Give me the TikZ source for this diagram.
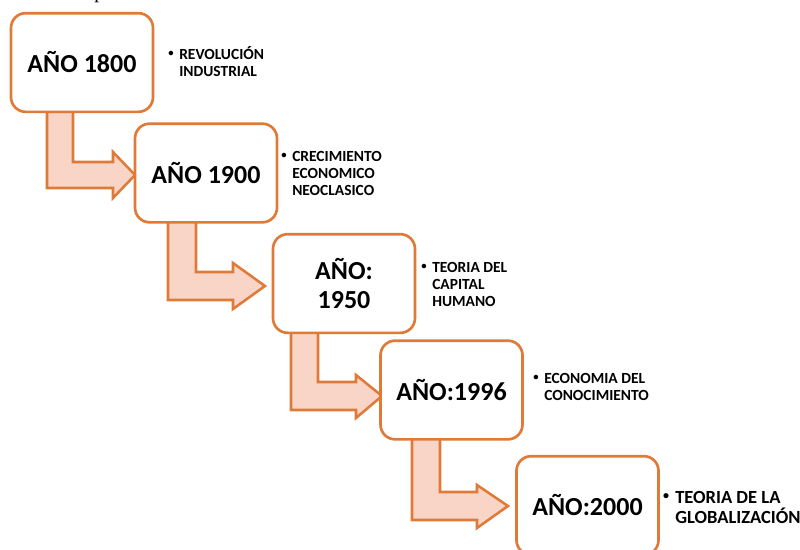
\documentclass[tikz,border=0pt]{standalone}
\usepackage{fontspec}
\setmainfont{Carlito}
\newfontfamily\serifpart{Liberation Serif}
\definecolor{boxorange}{RGB}{224,122,56}
\definecolor{arrowfill}{RGB}{248,213,198}
\begin{document}
\begin{tikzpicture}[x=0.75pt,y=-0.75pt,
  yearbox/.style={draw=boxorange, line width=2pt, fill=white, rounded corners=11pt,
    minimum width=106.5pt, minimum height=74pt, inner sep=0pt, align=center,
    font=\bfseries\fontsize{19.5}{21}\selectfont},
  bentarrow/.style={draw=boxorange, line width=1.9pt, fill=arrowfill, line join=miter},
  bul/.style={anchor=base, inner sep=0pt, font=\bfseries\fontsize{8}{8}\selectfont},
  lbl/.style={anchor=base west, inner sep=0pt, font=\bfseries\fontsize{11.6}{12.8}\selectfont},
  lblbig/.style={anchor=base west, inner sep=0pt, font=\bfseries\fontsize{13.9}{15}\selectfont}]
\useasboundingbox (0,0) rectangle (800,550);

% cropped text fragment at the top
\node[anchor=base west, inner sep=0pt, font=\serifpart\fontsize{15}{16}\selectfont] (frag) at (94,-1.5) {p};

% bent arrows
\draw[bentarrow] (47,110) -- (73,110) -- (73,162) -- (113,162) -- (113,152) -- (135,175)
  -- (113,198) -- (113,188) -- (47,188) -- cycle;
\draw[bentarrow] (168,221) -- (196,221) -- (196,272) -- (233,272) -- (233,263) -- (265,286)
  -- (233,309) -- (233,300) -- (168,300) -- cycle;
\draw[bentarrow] (291,330) -- (318,330) -- (318,382) -- (356,382) -- (356,375) -- (382,396)
  -- (356,418) -- (356,410) -- (291,410) -- cycle;
\draw[bentarrow] (412,436) -- (440,436) -- (440,492) -- (477,492) -- (477,485) -- (508,506)
  -- (477,528) -- (477,520) -- (412,520) -- cycle;

% year boxes
\node[yearbox] (b1) at (82,62.5) {AÑO 1800};
\node[yearbox] (b2) at (206,173) {AÑO 1900};
\node[yearbox] (b3) at (344,283.5) {AÑO:\\[1pt]1950};
\node[yearbox] (b4) at (451.5,390) {AÑO:1996};
\node[yearbox] (b5) at (587.5,505.5) {AÑO:2000};

% bullet labels
\node[bul] (d1) at (171,56) {•};
\node[lbl] (t1) at (179,59) {\vtop{\hbox{REVOLUCIÓN}\hbox{INDUSTRIAL}}};
\node[bul] (d2) at (284,158) {•};
\node[lbl] (t2) at (292,161) {\vtop{\hbox{CRECIMIENTO}\hbox{ECONOMICO}\hbox{NEOCLASICO}}};
\node[bul] (d3) at (424,269) {•};
\node[lbl] (t3) at (432,272) {\vtop{\hbox{TEORIA DEL}\hbox{CAPITAL}\hbox{HUMANO}}};
\node[bul] (d4) at (536,380) {•};
\node[lbl] (t4) at (544,383) {\vtop{\hbox{ECONOMIA DEL}\hbox{CONOCIMIENTO}}};
\node[bul, font=\bfseries\fontsize{9}{9}\selectfont] (d5) at (666,499.5) {•};
\node[lblbig] (t5) at (675,503) {\vtop{\hbox{TEORIA DE LA}\hbox{GLOBALIZACIÓN}}};
\end{tikzpicture}
\end{document}
